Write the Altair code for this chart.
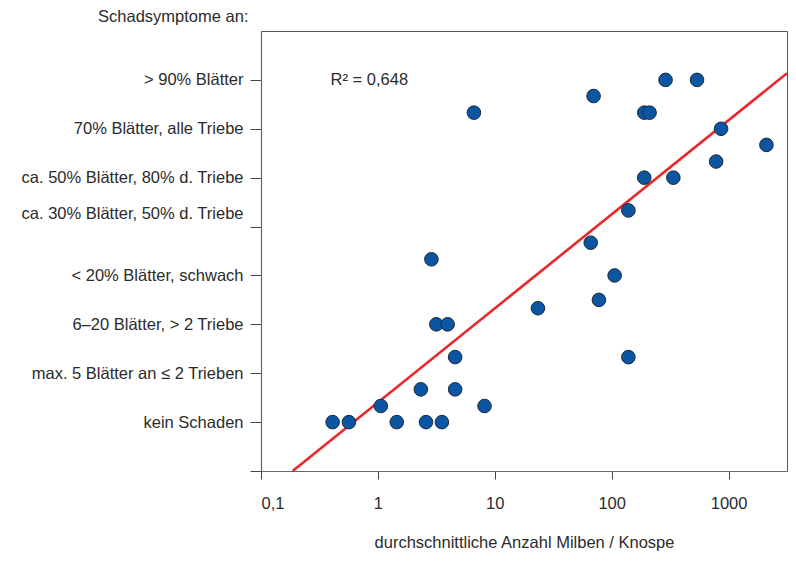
import json
import altair as alt
import pandas as pd

# --- data ---
mites = [0.41, 0.565, 1.06, 1.45, 2.33, 2.58, 2.87, 3.16, 3.53, 3.95,
         4.58, 4.58, 8.17, 23.4, 66.2, 77.8, 106, 139, 139,
         6.63, 70, 190, 211, 289, 537, 863, 2109, 783, 190, 337]
damage = [0, 0, 0.33, 0, 0.67, 0, 3.33, 2, 0, 2,
          1.33, 0.67, 0.33, 2.33, 3.67, 2.5, 3, 4.33, 1.33,
          6.33, 6.67, 6.33, 6.33, 7, 7, 6, 5.67, 5.33, 5, 5]

fit_x = [0.1866, 3162]
fit_y = [-1, 7.135]

y_labels = ["kein Schaden", "max. 5 Blätter an ≤ 2 Trieben", "6–20 Blätter, > 2 Triebe",
            "< 20% Blätter, schwach", "ca. 30% Blätter, 50% d. Triebe",
            "ca. 50% Blätter, 80% d. Triebe", "70% Blätter, alle Triebe", "> 90% Blätter"]
y_ticks = [-1, 0, 1, 2, 3, 4, 5, 6, 7]

x_ticks = [0.1, 1, 10, 100, 1000]
x_labels = ["0,1", "1", "10", "100", "1000"]

r2_x = [0.394]
r2_y = [7]
r2_text = ["R² = 0,648"]

FONT = "Liberation Sans"
FS = 16.5
TXT = "#2b2b2b"

df = pd.DataFrame({"mites": mites, "damage": damage})
fit = pd.DataFrame({"mites": fit_x, "damage": fit_y})
r2 = pd.DataFrame({"mites": r2_x, "damage": r2_y, "t": r2_text})

xscale = alt.Scale(type="log", domain=[0.1, 3162], nice=False)
yscale = alt.Scale(domain=[-1, 8], nice=False, zero=False)

y_expr = json.dumps([""] + y_labels, ensure_ascii=False) + "[datum.value + 1]"
x_expr = json.dumps(x_labels) + "[indexof(" + json.dumps(x_ticks) + ", datum.value)]"

x_axis = alt.Axis(values=x_ticks, labelExpr=x_expr, tickSize=8, labelPadding=29,
                  labelBaseline="alphabetic", grid=False,
                  title="durchschnittliche Anzahl Milben / Knospe",
                  titleBaseline="alphabetic", titleY=76, titleX=263, titleAlign="center")
y_axis = alt.Axis(values=y_ticks, labelExpr=y_expr, tickSize=11, labelPadding=7, grid=False,
                  labelLimit=0, titleLimit=0,
                  labelOffset={"condition": {"test": "datum.value == 4", "value": -13}, "value": 0},
                  title="Schadsymptome an:", titleAngle=0, titleAlign="right",
                  titleBaseline="alphabetic", titleX=-13, titleY=-10)

base_x = alt.X("mites:Q", scale=xscale, axis=x_axis)
base_y = alt.Y("damage:Q", scale=yscale, axis=y_axis)

line = alt.Chart(fit).mark_line(color="#e8282b", strokeWidth=2.6).encode(x=base_x, y=base_y)
pts = alt.Chart(df).mark_circle(size=185, color="#0b55a2", stroke="#1b2a3a",
                                strokeWidth=1, opacity=1).encode(
    x=alt.X("mites:Q", scale=xscale), y=alt.Y("damage:Q", scale=yscale))
txt = alt.Chart(r2).mark_text(align="left", baseline="middle", font=FONT, fontSize=FS,
                              color=TXT).encode(
    x=alt.X("mites:Q", scale=xscale), y=alt.Y("damage:Q", scale=yscale), text="t:N")

chart = alt.layer(line, pts, txt).properties(
    width=526, height=440,
    autosize=alt.AutoSizeParams(type="none"),
    padding={"left": 253, "top": 23, "right": 1, "bottom": 80},
).configure_view(stroke="#555", strokeWidth=1).configure_axis(
    labelFont=FONT, labelFontSize=FS, labelColor=TXT,
    titleFont=FONT, titleFontSize=FS, titleColor=TXT, titleFontWeight="normal",
    domainColor="#666", tickColor="#444", domainWidth=1.2, tickWidth=1,
)

chart.save("out.html", embed_options={"renderer": "svg", "actions": False})
